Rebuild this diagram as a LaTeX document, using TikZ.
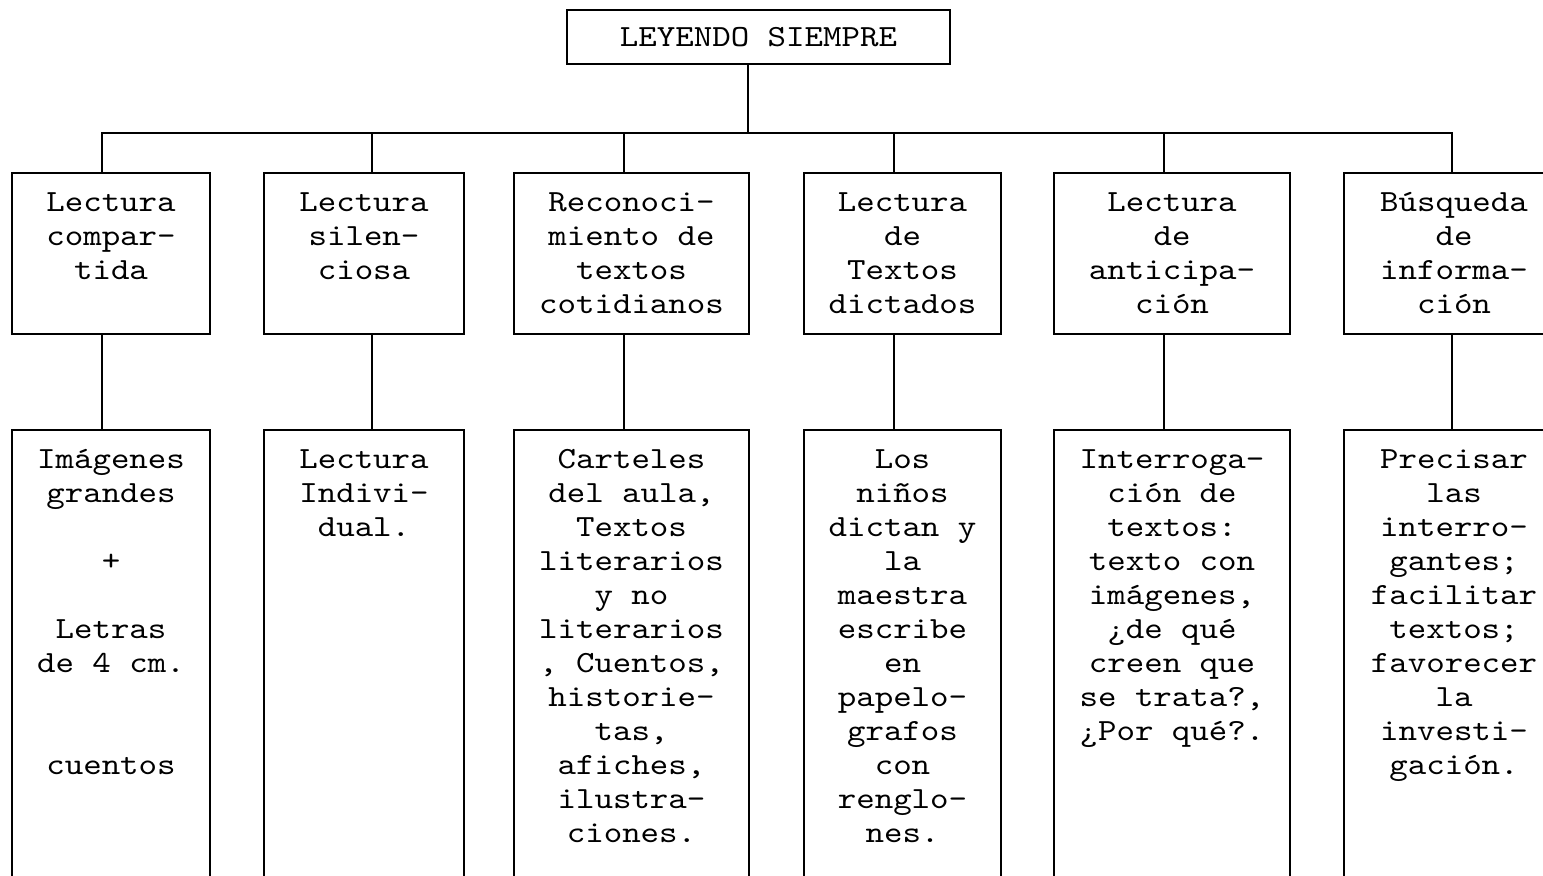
\documentclass[tikz,border=0pt]{standalone}
\usepackage{fontspec}
\setmonofont{lmmono10-regular.otf}[FakeStretch=1.143]
\usetikzlibrary{positioning}
\newcommand{\boxfont}{\ttfamily\fontsize{15.4}{17}\selectfont
  \fontdimen2\font=9.24pt\fontdimen3\font=0pt\fontdimen4\font=0pt\relax}

\begin{document}
\begin{tikzpicture}[
  x=0.5pt, y=-0.5pt,
  node distance=47pt,
  cell/.style={rectangle, draw=black, line width=1pt, inner sep=0pt, align=center,
               font=\boxfont, execute at begin node={\spaceskip=9.24pt\relax}},
  titlebox/.style={cell, minimum width=191.5pt, minimum height=27pt},
  actbox/.style={cell, anchor=north, text height=19pt, text depth=61.5pt},
  resbox/.style={cell, text height=19pt, text depth=220pt},
  wire/.style={line width=1pt}
]
\useasboundingbox (0,0) rectangle (1543,875);
\clip (0,0) rectangle (1543,875);

\node[titlebox] (top) at (758.5,37) {LEYENDO SIEMPRE};

% first row
\node[actbox, text width=99pt] (a1) at (111,172) {Lectura\\compar-\\tida};
\node[actbox, text width=100pt] (a2) at (364,172) {Lectura\\silen-\\ciosa};
\node[actbox, text width=117.5pt] (a3) at (631.5,172) {Reconoci-\\miento de\\textos\\cotidianos};
\node[actbox, text width=98.5pt] (a4) at (902.5,172) {Lectura\\de\\Textos\\dictados};
\node[actbox, text width=118pt] (a5) at (1172,172) {Lectura\\de\\anticipa-\\ción};
\node[actbox, text width=110pt] (a6) at (1454,172) {Búsqueda\\de\\informa-\\ción};

% second row
\node[resbox, text width=99pt, below=of a1] (r1) {Imágenes\\grandes\\~\\+\\~\\Letras\\de 4 cm.\\~\\~\\cuentos};
\node[resbox, text width=100pt, below=of a2] (r2) {Lectura\\Indivi-\\dual.};
\node[resbox, text width=117.5pt, below=of a3] (r3) {Carteles\\del aula,\\Textos\\literarios\\y no\\literarios\\, Cuentos,\\historie-\\tas,\\afiches,\\ilustra-\\ciones.};
\node[resbox, text width=98.5pt, below=of a4] (r4) {Los\\niños\\dictan y\\la\\maestra\\escribe\\en\\papelo-\\grafos\\con\\renglo-\\nes.};
\node[resbox, text width=118pt, below=of a5] (r5) {Interroga-\\ción de\\textos:\\texto con\\imágenes,\\¿de qué\\creen que\\se trata?,\\¿Por qué?.};
\node[resbox, text width=110pt, below=of a6] (r6) {Precisar\\las\\interro-\\gantes;\\facilitar\\textos;\\favorecer\\la\\investi-\\gación.};

% connectors
\coordinate (hub) at (748,133);
\coordinate (j1) at (102,133);
\coordinate (j2) at (372,133);
\coordinate (j3) at (624,133);
\coordinate (j4) at (894,133);
\coordinate (j5) at (1164,133);
\coordinate (j6) at (1452,133);

\draw[wire] (hub |- top.south) -- (hub);
\draw[wire] (j1 |- a1.north) -- (j1) -- (j6) -- (j6 |- a6.north);
\draw[wire] (j2) -- (j2 |- a2.north);
\draw[wire] (j3) -- (j3 |- a3.north);
\draw[wire] (j4) -- (j4 |- a4.north);
\draw[wire] (j5) -- (j5 |- a5.north);

\draw[wire] (j1 |- a1.south) -- (j1 |- r1.north);
\draw[wire] (j2 |- a2.south) -- (j2 |- r2.north);
\draw[wire] (j3 |- a3.south) -- (j3 |- r3.north);
\draw[wire] (j4 |- a4.south) -- (j4 |- r4.north);
\draw[wire] (j5 |- a5.south) -- (j5 |- r5.north);
\draw[wire] (j6 |- a6.south) -- (j6 |- r6.north);

\end{tikzpicture}
\end{document}
